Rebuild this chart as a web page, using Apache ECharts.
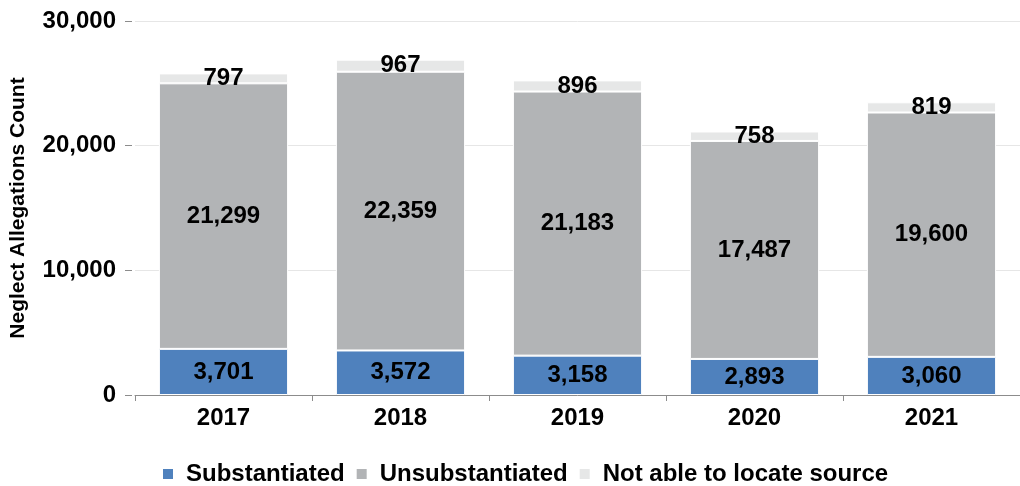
<!DOCTYPE html>
<html>
<head>
<meta charset="utf-8">
<script src="https://cdn.jsdelivr.net/npm/echarts@6/dist/echarts.min.js"></script>
<style>html,body{margin:0;padding:0;background:#fff}#c{width:1020px;height:486px}</style>
</head>
<body>
<div id="c"></div>
<script>
const years = ['2017', '2018', '2019', '2020', '2021'];
const substantiated = [3701, 3572, 3158, 2893, 3060];
const unsubstantiated = [21299, 22359, 21183, 17487, 19600];
const notLocated = [797, 967, 896, 758, 819];
const seriesNames = ['Substantiated', 'Unsubstantiated', 'Not able to locate source'];
const colors = ['#4f81bd', '#b2b4b6', '#e6e7e7'];

const FONT = "'Liberation Sans', Arial, sans-serif";
const chart = echarts.init(document.getElementById('c'), null, {renderer: 'canvas'});
const fmt = v => Number(v).toLocaleString('en-US');

function mk(name, data, color) {
  return {
    name, type: 'bar', stack: 'total', data, barWidth: '73%',
    itemStyle: {color, borderColor: '#fff', borderWidth: 1},
    label: {
      show: true, position: 'inside', color: '#000',
      fontFamily: FONT, fontWeight: 'bold', fontSize: 24,
      formatter: p => fmt(p.value)
    }
  };
}

chart.setOption({
  animation: false,
  color: colors,
  grid: {left: 133, top: 21, width: 896, height: 374, containLabel: false},
  legend: {
    data: seriesNames, left: 161, top: 462, padding: 0, icon: 'rect',
    itemWidth: 12, itemHeight: 12, itemGap: 10,
    textStyle: {fontFamily: FONT, fontWeight: 'bold', fontSize: 24, color: '#000', padding: [0, 0, 0, 7]}
  },
  xAxis: {
    type: 'category', data: years,
    axisLine: {lineStyle: {color: '#8c8c8c', width: 1}},
    axisTick: {show: true, length: 6, lineStyle: {color: '#8c8c8c'}},
    axisLabel: {color: '#000', fontFamily: FONT, fontWeight: 'bold', fontSize: 24, margin: 11}
  },
  yAxis: {
    type: 'value', min: 0, max: 30000, interval: 10000, offset: 3,
    name: 'Neglect Allegations Count', nameLocation: 'middle', nameGap: 103,
    nameTextStyle: {fontFamily: FONT, fontWeight: 'bold', fontSize: 21, color: '#000'},
    axisLine: {show: false},
    axisTick: {show: true, length: 7, lineStyle: {color: '#8c8c8c'}},
    axisLabel: {color: '#000', fontFamily: FONT, fontWeight: 'bold', fontSize: 24, margin: 16, formatter: v => fmt(v)},
    splitLine: {lineStyle: {color: '#e6e6e6', width: 1}}
  },
  series: [
    mk(seriesNames[0], substantiated, colors[0]),
    mk(seriesNames[1], unsubstantiated, colors[1]),
    mk(seriesNames[2], notLocated, colors[2])
  ]
});
</script>
</body>
</html>
